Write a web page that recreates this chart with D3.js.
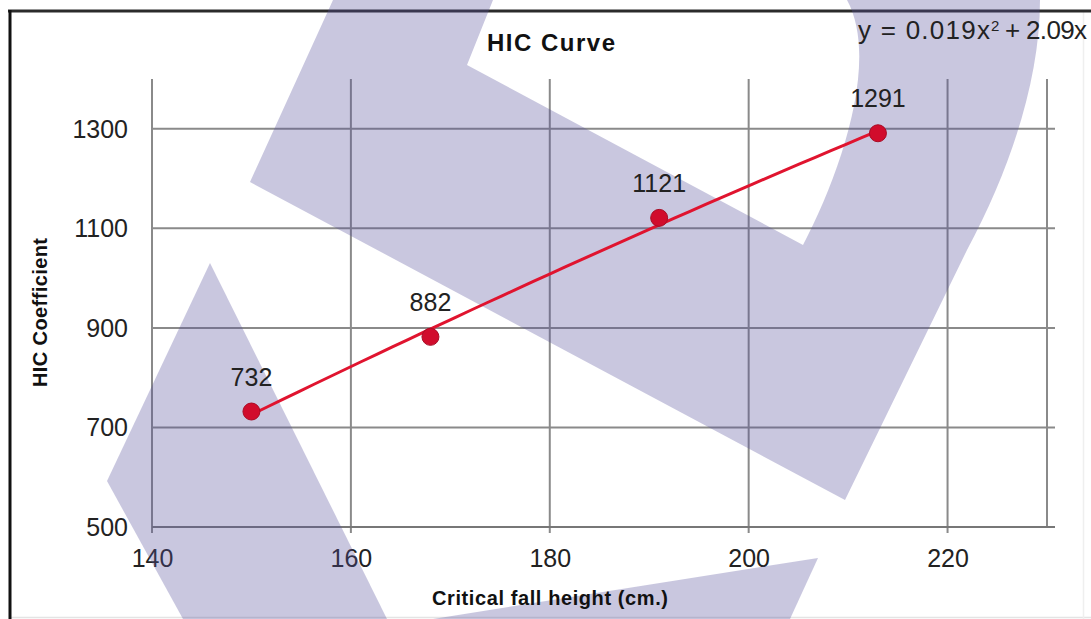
<!DOCTYPE html>
<html>
<head>
<meta charset="utf-8">
<script src="https://cdn.jsdelivr.net/npm/d3@7"></script>
<style>
  html, body { margin: 0; padding: 0; background: #fff; }
  svg { display: block; }
  text { font-family: "Liberation Sans", Arial, sans-serif; }
</style>
</head>
<body>
<svg id="chart" width="1091" height="619"></svg>
<script>
// ---- data ----
const heights = [150, 168, 191, 213];          // Critical fall height (cm.)
const hicValues = [732, 882, 1121, 1291];       // HIC coefficient
const xTickValues = [140, 160, 180, 200, 220];
const yTickValues = [500, 700, 900, 1100, 1300];
const xDomain = [140, 230];
const yDomain = [500, 1400];
const chartTitle = "HIC Curve";
const xTitle = "Critical fall height (cm.)";
const yTitle = "HIC Coefficient";
const equationMain = "y = 0.019x";
const equationSup = "2";
const equationRest = "+ 2.09x";

// ---- layout ----
const svg = d3.select("#chart");
const W = 1091, H = 619;
const plot = { left: 152, right: 1047, top: 79, bottom: 527 };

const x = d3.scaleLinear().domain(xDomain).range([plot.left, plot.right]);
const y = d3.scaleLinear().domain(yDomain).range([plot.bottom, plot.top]);

svg.append("rect").attr("width", W).attr("height", H).attr("fill", "#fff");

// faint page edges
svg.append("line").attr("x1", 9).attr("x2", W).attr("y1", 617.5).attr("y2", 617.5)
  .attr("stroke", "#e4e4e4").attr("stroke-width", 1.5);
svg.append("line").attr("x1", 1083.5).attr("x2", 1083.5).attr("y1", 12).attr("y2", H)
  .attr("stroke", "#efefef").attr("stroke-width", 1.5);

// chart frame (top & left edges visible)
svg.append("line").attr("x1", 8).attr("x2", W).attr("y1", 11).attr("y2", 11)
  .attr("stroke", "#2b2b2b").attr("stroke-width", 3);
svg.append("line").attr("x1", 10).attr("x2", 10).attr("y1", 10).attr("y2", H)
  .attr("stroke", "#111").attr("stroke-width", 3);

const gridColor = "#8a8a8a";

// vertical grid lines (with tick extension below axis)
svg.append("g").selectAll("line").data(xTickValues).join("line")
  .attr("x1", d => x(d)).attr("x2", d => x(d))
  .attr("y1", plot.top).attr("y2", plot.bottom + 6)
  .attr("stroke", gridColor).attr("stroke-width", 2);
// right edge of plot
svg.append("line")
  .attr("x1", x(xDomain[1])).attr("x2", x(xDomain[1]))
  .attr("y1", plot.top).attr("y2", plot.bottom)
  .attr("stroke", gridColor).attr("stroke-width", 2);

// horizontal grid lines (extend slightly beyond right edge)
svg.append("g").selectAll("line").data(yTickValues).join("line")
  .attr("x1", plot.left).attr("x2", plot.right + 8)
  .attr("y1", d => y(d)).attr("y2", d => y(d))
  .attr("stroke", d => d === yDomain[0] ? "#777" : gridColor).attr("stroke-width", 2);

// axes (labels through d3 axes)
const xAxis = d3.axisBottom(x).tickValues(xTickValues).tickSize(0).tickPadding(0)
  .tickFormat(d3.format("d"));
const gx = svg.append("g").attr("transform", `translate(0,${plot.bottom})`).call(xAxis);
gx.select(".domain").remove();
gx.selectAll("text").attr("dy", null).attr("y", 40)
  .attr("font-size", 25).attr("fill", "#222")
  .style("font-family", '"Liberation Sans", Arial, sans-serif');

const yAxis = d3.axisLeft(y).tickValues(yTickValues).tickSize(0).tickPadding(0)
  .tickFormat(d3.format("d"));
const gy = svg.append("g").attr("transform", `translate(${plot.left},0)`).call(yAxis);
gy.select(".domain").remove();
gy.selectAll("text").attr("dy", null).attr("x", -24).attr("y", 8.5)
  .attr("font-size", 25).attr("fill", "#222")
  .style("font-family", '"Liberation Sans", Arial, sans-serif');

// ---- watermark overlay (decorative, semi-transparent, under the series) ----
const watermarkPaths = [
  "M333,0 L493,0 L467,65 L803,245 C840,175 880,60 847,0 L1040,0 C1040,80 1010,170 967,250 L845,500 L250,182 Z",
  "M210,263 L107,481 L183,619 L387,619 Z",
  "M433,619 L818,558 L790,619 Z"
];
svg.append("g").attr("pointer-events", "none")
  .selectAll("path").data(watermarkPaths).join("path")
  .attr("d", d => d)
  .attr("fill", "rgb(86,80,155)").attr("fill-opacity", 0.32);

// ---- trendline (least-squares quadratic through the points) ----
function quadFit(xs, ys) {
  const n = xs.length;
  const mx = d3.mean(xs);
  const t = xs.map(v => v - mx);
  let s0 = n, s1 = 0, s2 = 0, s3 = 0, s4 = 0, sy = 0, sty = 0, st2y = 0;
  for (let i = 0; i < n; i++) {
    const a = t[i], b = ys[i];
    s1 += a; s2 += a * a; s3 += a * a * a; s4 += a * a * a * a;
    sy += b; sty += a * b; st2y += a * a * b;
  }
  const M = [[s0, s1, s2, sy], [s1, s2, s3, sty], [s2, s3, s4, st2y]];
  for (let c = 0; c < 3; c++) {
    for (let r = c + 1; r < 3; r++) {
      const f = M[r][c] / M[c][c];
      for (let k = c; k < 4; k++) M[r][k] -= f * M[c][k];
    }
  }
  const sol = [0, 0, 0];
  for (let r = 2; r >= 0; r--) {
    let v = M[r][3];
    for (let k = r + 1; k < 3; k++) v -= M[r][k] * sol[k];
    sol[r] = v / M[r][r];
  }
  return xv => { const d = xv - mx; return sol[0] + sol[1] * d + sol[2] * d * d; };
}
const fit = quadFit(heights, hicValues);
const xMin = d3.min(heights), xMax = d3.max(heights);
const trendX = d3.range(0, 41).map(i => xMin + (xMax - xMin) * i / 40);
svg.append("path")
  .datum(trendX)
  .attr("d", d3.line().x(d => x(d)).y(d => y(fit(d))))
  .attr("fill", "none").attr("stroke", "#e0142f").attr("stroke-width", 3);

// points
svg.append("g").selectAll("circle").data(heights).join("circle")
  .attr("cx", d => x(d)).attr("cy", (d, i) => y(hicValues[i]))
  .attr("r", 8.5).attr("fill", "#d10c2c").attr("stroke", "#a80c25").attr("stroke-width", 1);

// data labels
svg.append("g").selectAll("text").data(heights).join("text")
  .attr("x", d => x(d)).attr("y", (d, i) => y(hicValues[i]) - 26)
  .attr("text-anchor", "middle").attr("font-size", 25).attr("fill", "#222")
  .text((d, i) => hicValues[i]);

// titles
svg.append("text").attr("x", 487).attr("y", 51)
  .attr("font-size", 24).attr("font-weight", "bold").attr("fill", "#111")
  .attr("textLength", 128).attr("lengthAdjust", "spacing")
  .text(chartTitle);

svg.append("text").attr("x", 432).attr("y", 605)
  .attr("font-size", 20).attr("font-weight", "bold").attr("fill", "#111")
  .attr("textLength", 236).attr("lengthAdjust", "spacing")
  .text(xTitle);

svg.append("text").attr("transform", "translate(47,387) rotate(-90)")
  .attr("x", 0).attr("y", 0)
  .attr("font-size", 20).attr("font-weight", "bold").attr("fill", "#111")
  .attr("textLength", 149).attr("lengthAdjust", "spacing")
  .text(yTitle);

// trendline equation
svg.append("text").attr("x", 858).attr("y", 39)
  .attr("font-size", 26).attr("fill", "#222")
  .attr("textLength", 132).attr("lengthAdjust", "spacing")
  .text(equationMain);
svg.append("text").attr("x", 991).attr("y", 31)
  .attr("font-size", 15).attr("fill", "#222")
  .text(equationSup);
svg.append("text").attr("x", 1005).attr("y", 39)
  .attr("font-size", 26).attr("fill", "#222")
  .attr("textLength", 82).attr("lengthAdjust", "spacing")
  .text(equationRest);
</script>
</body>
</html>
